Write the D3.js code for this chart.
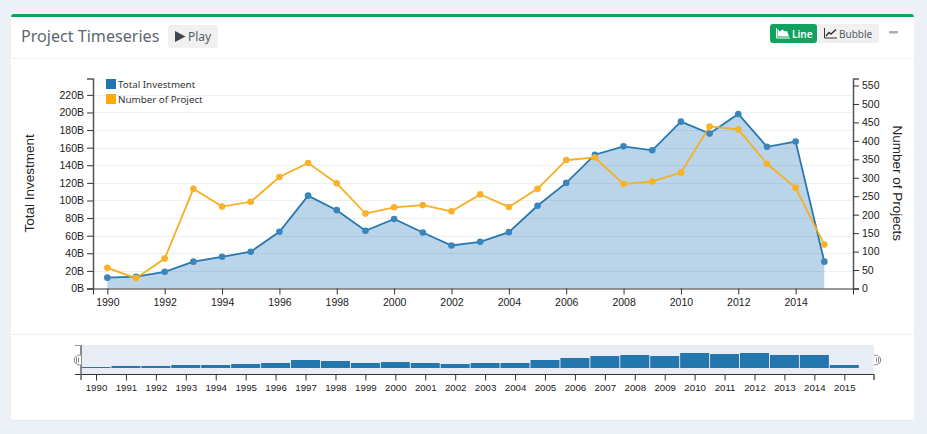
<!DOCTYPE html>
<html><head><meta charset="utf-8">
<script src="https://cdn.jsdelivr.net/npm/d3@7/dist/d3.min.js"></script>
<style>
html,body{margin:0;padding:0;background:#ecf0f7;overflow:hidden}
svg{display:block}
</style></head><body><svg id="c" width="927" height="434"></svg>
<script>
const years=d3.range(1990,2016);
const investment=[12.3,13.4,19,30.5,36,41.8,64.5,105.5,89,65.5,79,63.6,48.9,53,64,94,120,152,161.5,157,189.6,176,198.3,161,167,30.5];
const projects=[56,28,81,270,222,235,302,340,285,203,220,226,209,255,221,270,348,355,283,290,314,439,431,338,273,119];
const brushValues=[1,2,2,3,3,4,5,8,7,5,6,5,4,5,5,8,10,12,13,12,15,14,15,13,13,3];
const leftTicks=d3.range(0,221,20);
const rightTicks=d3.range(0,551,50);
const svg=d3.select("#c");
const font="'Liberation Sans',Arial,sans-serif";
const ui="'Noto Sans','Open Sans',sans-serif";
svg.append("path").attr("d","M11,17 a3,3 0 0 1 3,-3 H911 a3,3 0 0 1 3,3 V417 a3,3 0 0 1 -3,3 H14 a3,3 0 0 1 -3,-3 Z").attr("fill","#fff");
svg.append("line").attr("x1",13).attr("x2",912).attr("y1",420.5).attr("y2",420.5).attr("stroke","#e2e5ea");
svg.append("path").attr("d","M11,17 a3,3 0 0 1 3,-3 H911 a3,3 0 0 1 3,3 Z").attr("fill","#0fa35f");
svg.append("line").attr("x1",11).attr("x2",914).attr("y1",58.5).attr("y2",58.5).attr("stroke","#f0f1f3");
svg.append("line").attr("x1",11).attr("x2",914).attr("y1",334.5).attr("y2",334.5).attr("stroke","#f0f1f3");
svg.append("text").text("Project Timeseries").attr("x",21).attr("y",42).attr("font-family",ui).attr("font-size",16.1).attr("fill","#5c6670");
// Play button
svg.append("rect").attr("x",168).attr("y",25).attr("width",50).attr("height",23).attr("rx",3).attr("fill","#f0f0f0");
svg.append("path").attr("d","M175,31 L185.500,36.500 L175,42 Z").attr("fill","#40454f");
svg.append("text").text("Play").attr("x",188).attr("y",41).attr("font-family",ui).attr("font-size",12).attr("fill","#555c66");
// Toggle
svg.append("rect").attr("x",770).attr("y",24).attr("width",109).attr("height",19).attr("rx",3).attr("fill","#f0f0f0");
svg.append("rect").attr("x",770).attr("y",24).attr("width",47).attr("height",19).attr("rx",3).attr("fill","#0fa35f");
svg.append("path").attr("d","M777.500,36.500 V29 L780,31.500 L782.500,29.500 L785,31.500 L787,31 L789,36.500 Z").attr("fill","#fff");
svg.append("path").attr("d","M776.500,28 V38 H790").attr("fill","none").attr("stroke","#fff");
svg.append("text").text("Line").attr("x",792).attr("y",37.500).attr("font-family",ui).attr("font-size",10).attr("font-weight",600).attr("fill","#fff");
svg.append("path").attr("d","M824.500,28 V38 H837").attr("fill","none").attr("stroke","#333");
svg.append("path").attr("d","M826,36 L829,32.500 L831,34 L836,29.500").attr("fill","none").attr("stroke","#333").attr("stroke-width",1.5);
svg.append("text").text("Bubble").attr("x",839).attr("y",37.500).attr("font-family",ui).attr("font-size",10).attr("fill","#555c66");
svg.append("rect").attr("x",889).attr("y",31).attr("width",9).attr("height",2.500).attr("rx",1).attr("fill","#a9adb8");

// Main chart scales
const x=d3.scaleLinear().domain([1989.5,2016]).range([93,853]);
const yL=d3.scaleLinear().domain([0,238.6]).range([288.5,78.5]);
const yR=d3.scaleLinear().domain([0,569]).range([288.5,78.5]);
const g=svg.append("g");
g.selectAll("line.grid").data(leftTicks.slice(1)).join("line").attr("class","grid")
 .attr("x1",93).attr("x2",853).attr("y1",d=>Math.round(yL(d))+.5).attr("y2",d=>Math.round(yL(d))+.5).attr("stroke","#f2f3f4");
g.append("path").datum(years).attr("fill","#2f80bb").attr("fill-opacity",.33)
 .attr("d",d3.area().x(d=>x(d)).y0(yL(0)).y1((d,i)=>yL(investment[i])));
g.selectAll("line.grid2").data(leftTicks.slice(1)).join("line").attr("class","grid2")
 .attr("x1",93).attr("x2",853).attr("y1",d=>Math.round(yL(d))+.5).attr("y2",d=>Math.round(yL(d))+.5).attr("stroke","#000").attr("stroke-opacity",.015);
const styleAxis=(a,w)=>{a.attr("font-family",font).attr("font-size",10.5).attr("color","#222");
 a.selectAll("text").attr("fill","#1a1a1a");a.selectAll("line").attr("stroke","#333");a.select(".domain").attr("stroke",w||"#555").attr("stroke-width",w?1:1.5);};
const ax=g.append("g").attr("transform","translate(0,288.5)").call(d3.axisBottom(x).tickValues(d3.range(1990,2015,2)).tickFormat(d3.format("d")).tickSize(6).tickSizeOuter(6).tickPadding(4));
styleAxis(ax,"#333");
const al=g.append("g").attr("transform","translate(93,0)").call(d3.axisLeft(yL).tickValues(leftTicks).tickFormat(d=>d+"B").tickSize(6).tickSizeOuter(6));
styleAxis(al);
const ar=g.append("g").attr("transform","translate(853,0)").call(d3.axisRight(yR).tickValues(rightTicks).tickSize(6).tickSizeOuter(6));
styleAxis(ar);
const line=(vals,sc)=>d3.line().x(d=>x(d)).y((d,i)=>sc(vals[i]));
g.append("path").datum(years).attr("fill","none").attr("stroke","#2878b0").attr("stroke-width",1.8).attr("d",line(investment,yL));
g.append("path").datum(years).attr("fill","none").attr("stroke","#f6ae22").attr("stroke-width",1.8).attr("d",line(projects,yR));
g.selectAll("circle.a").data(years).join("circle").attr("class","a").attr("r",3.3).attr("cx",d=>x(d)).attr("cy",(d,i)=>yL(investment[i])).attr("fill","#3a85bb");
g.selectAll("circle.b").data(years).join("circle").attr("class","b").attr("r",3.3).attr("cx",d=>x(d)).attr("cy",(d,i)=>yR(projects[i])).attr("fill","#f8b128");
svg.append("text").text("Total Investment").attr("transform","translate(33.500,183.300) rotate(-90)").attr("text-anchor","middle").attr("font-family",font).attr("font-size",13.500).attr("fill","#222");
svg.append("text").text("Number of Projects").attr("transform","translate(892.500,183.300) rotate(90)").attr("text-anchor","middle").attr("font-family",font).attr("font-size",13.500).attr("fill","#222");
// legend
const legend=[["Total Investment","#2277b3",79],["Number of Project","#fcaa0c",94]];
legend.forEach(l=>{svg.append("rect").attr("x",106).attr("y",l[2]).attr("width",10).attr("height",10).attr("fill",l[1]);
 svg.append("text").text(l[0]).attr("x",118).attr("y",l[2]+9).attr("font-family",ui).attr("font-size",9.8).attr("fill","#333");});
// brush
const bxs=d3.scaleLinear().domain([1990,2015]).range([96,844.3]);
const by=d3.scaleLinear().domain([0,15]).range([368,353]);
svg.append("rect").attr("x",81).attr("y",345).attr("width",793).attr("height",29).attr("fill","#e8ecf4");
svg.selectAll("rect.bar").data(years).join("rect").attr("class","bar").attr("x",d=>bxs(d)-14.5).attr("width",29)
 .attr("y",(d,i)=>by(brushValues[i])).attr("height",(d,i)=>by(0)-by(brushValues[i])).attr("fill","#2477ae");
const ab=svg.append("g").attr("transform","translate(0,374.5)").call(d3.axisBottom(bxs).tickValues(years).tickFormat(d3.format("d")).tickSize(6).tickSizeOuter(0).tickPadding(4));
ab.attr("font-family",font).attr("font-size",9.7);ab.selectAll("text").attr("fill","#1a1a1a");ab.selectAll("line").attr("stroke","#333");
ab.select(".domain").attr("d","M75,0H874").attr("stroke","#333");
svg.append("line").attr("x1",81).attr("x2",81).attr("y1",345).attr("y2",380).attr("stroke","#666").attr("stroke-width",1.5);
svg.append("line").attr("x1",75).attr("x2",81).attr("y1",345.5).attr("y2",345.5).attr("stroke","#999");
svg.append("line").attr("x1",874).attr("x2",874).attr("y1",374).attr("y2",380).attr("stroke","#555").attr("stroke-width",1.5);
[[81,-1],[874,1]].forEach(h=>{
 const e=h[0],s=h[1];
 svg.append("path").attr("d","M"+e+",355 C"+(e+s*9)+",355 "+(e+s*9)+",365 "+e+",365").attr("fill","#fff").attr("stroke","#8a8a8a").attr("stroke-width",1.1);
 svg.append("path").attr("d","M"+(e+s*2.5)+",357.500 V362.500 M"+(e+s*4.5)+",357.500 V362.500").attr("stroke","#8a8a8a").attr("fill","none");
});
</script></body></html>
